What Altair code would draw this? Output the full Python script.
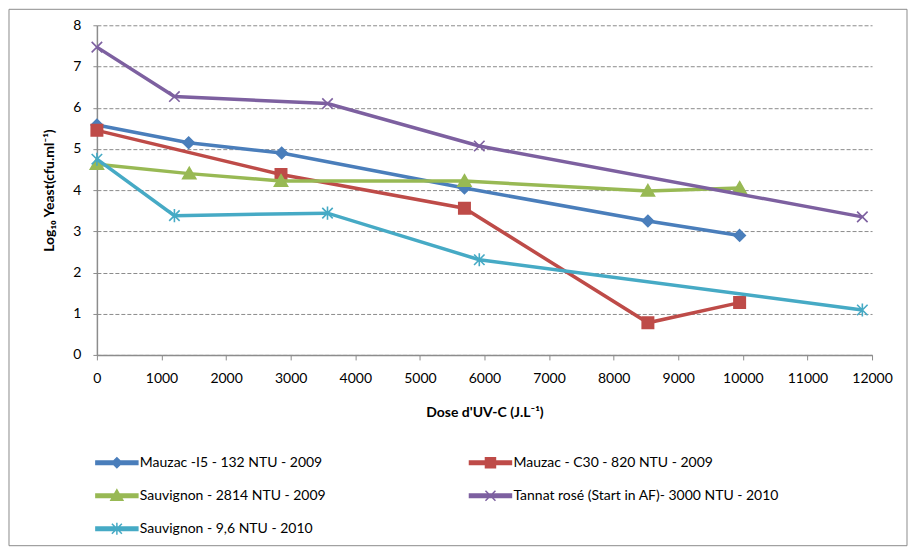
import altair as alt
import pandas as pd

# ---------------- data ----------------
series_names = [
    "Mauzac -I5 - 132 NTU - 2009",
    "Mauzac - C30 - 820 NTU - 2009",
    "Sauvignon - 2814 NTU  - 2009",
    "Tannat rosé (Start in AF)- 3000 NTU - 2010",
    "Sauvignon - 9,6 NTU - 2010",
]
series_colors = ["#4A7EBB", "#BE4B48", "#98B954", "#7D60A0", "#46AAC5"]

mauzac_i5_dose = [0, 1420, 2860, 5690, 8530, 9950]
mauzac_i5_log = [5.58, 5.15, 4.90, 4.05, 3.25, 2.90]

mauzac_c30_dose = [0, 2850, 5690, 8530, 9950]
mauzac_c30_log = [5.45, 4.38, 3.56, 0.78, 1.27]

sauvignon_2814_dose = [0, 1430, 2850, 5690, 8530, 9950]
sauvignon_2814_log = [4.63, 4.40, 4.22, 4.22, 3.98, 4.05]

tannat_dose = [0, 1200, 3570, 5920, 11850]
tannat_log = [7.47, 6.27, 6.10, 5.07, 3.35]

sauvignon_96_dose = [0, 1200, 3570, 5920, 11850]
sauvignon_96_log = [4.75, 3.38, 3.44, 2.31, 1.09]

x_ticks = list(range(0, 12001, 1000))
y_ticks = list(range(0, 9))

# marker shapes (plot) and legend symbols (line + marker)
marker_paths = [
    "M0,-1L1,0L0,1L-1,0Z",
    "M-1,-1L1,-1L1,1L-1,1Z",
    "M0,-1.1L1.15,0.9L-1.15,0.9Z",
    "M-1,-1L1,1M-1,1L1,-1",
    "M-1,-1L1,1M-1,1L1,-1M0,-1.25L0,1.25",
]
marker_sizes = [130, 130, 130, 110, 110]
bar = "M-4.2,-0.35L4.2,-0.35L4.2,0.35L-4.2,0.35Z"
legend_paths = [
    bar + "M0,-1L1,0L0,1L-1,0Z",
    bar + "M-1,-1L1,-1L1,1L-1,1Z",
    bar + "M0,-1.2L1.2,0.9L-1.2,0.9Z",
    bar + "M-1,-1L1,1M-1,1L1,-1",
    bar + "M-1,-1L1,1M-1,1L1,-1M0,-1.2L0,1.2",
]
# legend fills column by column: left column first, then right column
legend_order = [0, 2, 4, 1, 3]

doses = [mauzac_i5_dose, mauzac_c30_dose, sauvignon_2814_dose, tannat_dose, sauvignon_96_dose]
logs = [mauzac_i5_log, mauzac_c30_log, sauvignon_2814_log, tannat_log, sauvignon_96_log]

rows = []
for name, d, l in zip(series_names, doses, logs):
    for i, (dx, ly) in enumerate(zip(d, l)):
        rows.append({"series": name, "dose": dx, "log": ly, "idx": i})
df = pd.DataFrame(rows)

FONT = "Lato"
AX = "#8c8c8c"

x_enc = alt.X(
    "dose:Q",
    scale=alt.Scale(domain=[0, 12000], nice=False),
    axis=alt.Axis(
        values=x_ticks, format="d", grid=False, tickSize=5, labelPadding=12,
        title="Dose d'UV-C (J.L⁻¹)", titlePadding=20, labelFlush=False,
    ),
)
y_enc = alt.Y(
    "log:Q",
    scale=alt.Scale(domain=[0, 8], nice=False),
    axis=alt.Axis(
        values=y_ticks, grid=True, tickSize=4, labelPadding=12,
        title="Log₁₀ Yeast(cfu.ml⁻¹)", titlePadding=16,
    ),
)

layers = []
for k, name in enumerate(series_names):
    base = alt.Chart(df).transform_filter(alt.datum.series == name)
    layers.append(
        base.mark_line(color=series_colors[k], strokeWidth=3.5).encode(
            x=x_enc, y=y_enc, order="idx:Q"
        )
    )
    layers.append(
        base.mark_point(
            shape=marker_paths[k], filled=True, size=marker_sizes[k],
            fill=series_colors[k], stroke=series_colors[k], strokeWidth=1.6, opacity=1,
        ).encode(x=x_enc, y=y_enc)
    )

leg_domain = [series_names[i] for i in legend_order]
leg_paths = [legend_paths[i] for i in legend_order]
leg_colors = [series_colors[i] for i in legend_order]

leg = alt.Legend(
    title=None, orient="none", legendX=13, legendY=431, columns=2,
    columnPadding=137, rowPadding=16, symbolSize=100, symbolStrokeWidth=1.5,
    labelOffset=16, labelFont=FONT, labelFontSize=14, labelColor="#000000",
    labelLimit=400,
)
legend_layer = (
    alt.Chart(df)
    .transform_filter("false")
    .mark_point(filled=True, opacity=1)
    .encode(
        shape=alt.Shape("series:N", scale=alt.Scale(domain=leg_domain, range=leg_paths), legend=leg),
        fill=alt.Fill("series:N", scale=alt.Scale(domain=leg_domain, range=leg_colors), legend=leg),
        stroke=alt.Stroke("series:N", scale=alt.Scale(domain=leg_domain, range=leg_colors), legend=leg),
    )
)

border = alt.Chart(pd.DataFrame({"frame": [0]})).mark_rect(
    fill="transparent", stroke="#8c8c8c", strokeWidth=1
).encode(
    x=alt.value(-88), x2=alt.value(811), y=alt.value(-16), y2=alt.value(521)
)

chart = (
    alt.layer(border, *layers, legend_layer)
    .properties(width=776, height=330, padding=0)
    .configure_view(stroke=None)
    .configure_axis(
        domainColor=AX, tickColor=AX, gridColor=AX, gridDash=[4, 2], gridWidth=1,
        labelFont=FONT, labelFontSize=14, labelColor="#000000",
        titleFont=FONT, titleFontSize=14, titleFontWeight="bold", titleColor="#000000",
    )
    .configure_axisX(domainWidth=1.5)
    .configure_axisY(domainWidth=1.5)
)

chart.save("out.html", embed_options={"renderer": "svg", "actions": False})
